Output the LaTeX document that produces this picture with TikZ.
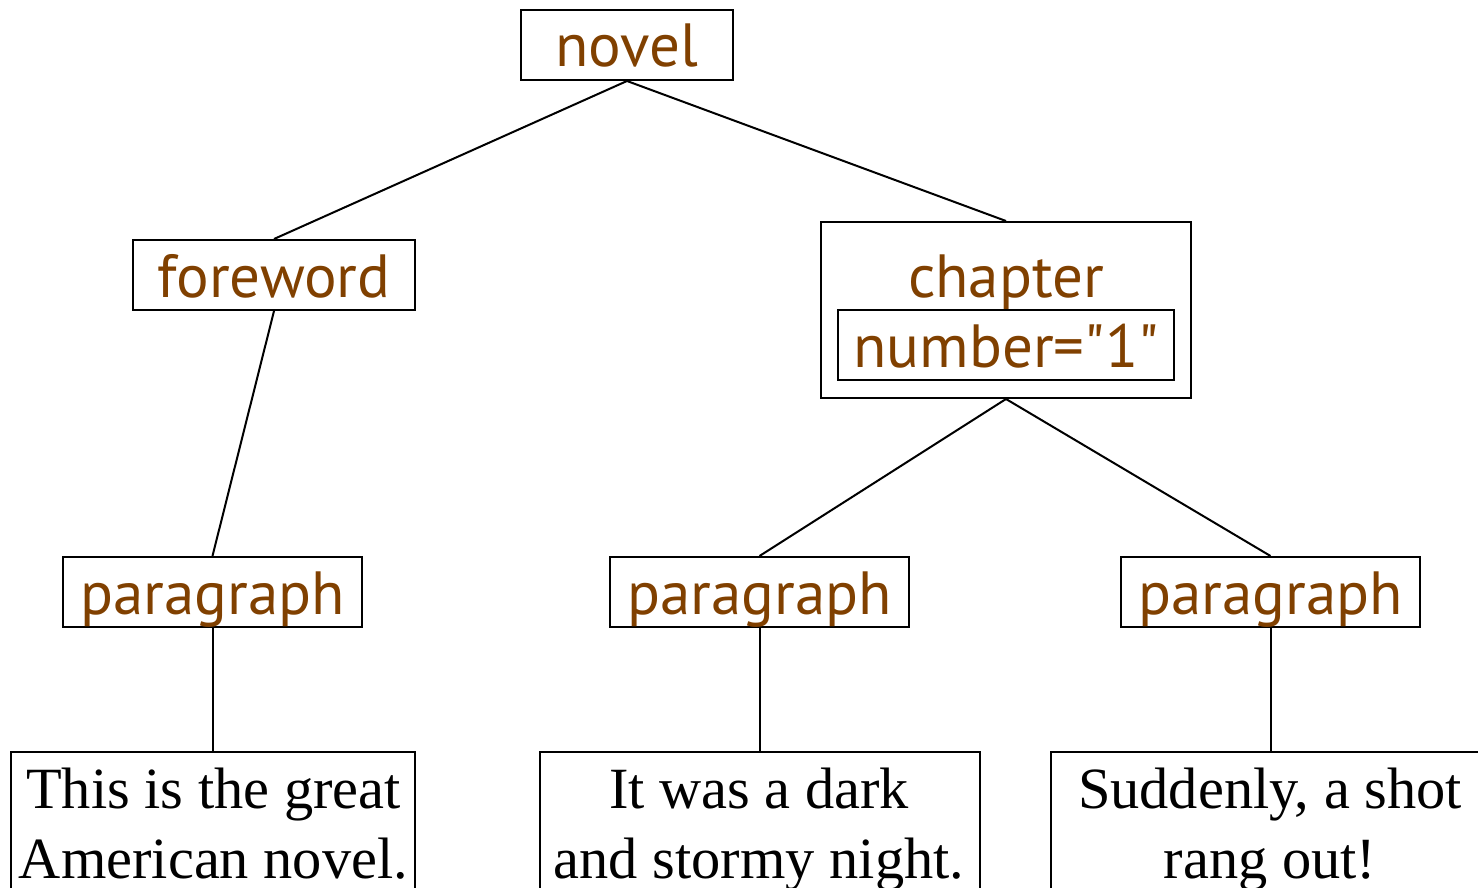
\documentclass[tikz,border=0pt]{standalone}
\usepackage{fontspec}
\setmainfont{Liberation Serif}
\newfontfamily\elemfont{PT Sans}
\definecolor{elembrown}{RGB}{128,64,0}
\begin{document}
\begin{tikzpicture}[x=1pt,y=-1pt,
  box/.style={draw=black, line width=2pt, inner sep=0pt},
  elemtext/.style={font=\elemfont\fontsize{61}{70}\selectfont, text=elembrown},
  elem/.style={box, elemtext, text height=50pt, text depth=6pt, minimum height=70pt},
  leaf/.style={box, anchor=north, minimum height=180pt},
  leaftext/.style={anchor=base, inner sep=0pt, font=\fontsize{58.4}{70}\selectfont},
  edge/.style={draw=black, line width=2pt}]
\useasboundingbox (0,0) rectangle (1478,888);
\clip (0,0) rectangle (1478,888);
% element boxes
\node[elem, minimum width=212pt] (novel) at (627,45) {novel};
\node[elem, minimum width=282pt] (foreword) at (274,275) {foreword};
\node[box, minimum width=370pt, minimum height=176pt] (chapter) at (1006,310) {};
\node[elemtext, anchor=base, inner sep=0pt] (chaptername) at (1006,297) {chapter};
\node[elem, minimum width=336pt] (number) at (1006,345) {number="1"};
\node[elem, minimum width=299pt] (p1) at (212.5,592) {paragraph};
\node[elem, minimum width=299pt] (p2) at (759.5,592) {paragraph};
\node[elem, minimum width=299pt] (p3) at (1270.5,592) {paragraph};
% leaf text boxes
\node[leaf, minimum width=404pt] (t1) at (212.5,751) {};
\node[leaf, minimum width=440pt] (t2) at (759.5,751) {};
\node[leaf, minimum width=440pt] (t3) at (1270.5,751) {};
\node[leaftext] (t1text) at (213.5,808) {\begin{tabular}[t]{@{}c@{}}This is the great\\American novel.\end{tabular}};
\node[leaftext] (t2text) at (759,808) {\begin{tabular}[t]{@{}c@{}}It was a dark\\and stormy night.\end{tabular}};
\node[leaftext] (t3text) at (1270,808) {\begin{tabular}[t]{@{}c@{}}Suddenly, a shot\\rang out!\end{tabular}};
% connectors
\draw[edge] (novel.south) -- (foreword.north);
\draw[edge] (novel.south) -- (chapter.north);
\draw[edge] (foreword.south) -- (p1.north);
\draw[edge] (chapter.south) -- (p2.north);
\draw[edge] (chapter.south) -- (p3.north);
\draw[edge] (p1.south) -- (t1.north);
\draw[edge] (p2.south) -- (t2.north);
\draw[edge] (p3.south) -- (t3.north);
\end{tikzpicture}
\end{document}
